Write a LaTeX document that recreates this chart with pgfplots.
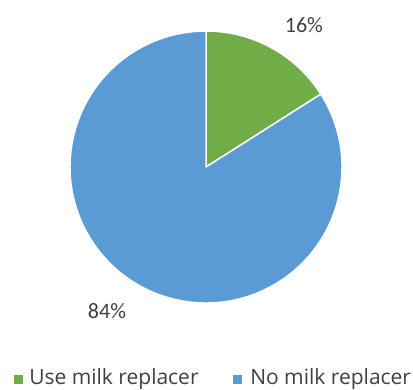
\documentclass[border=0pt]{standalone}
\usepackage{pgfplots}
\usepackage{pgfplotstable}
\pgfplotsset{compat=1.18}
\usepackage{fontspec}
\setmainfont{Carlito}
\newfontfamily\legfont{Open Sans}
\definecolor{cgreen}{HTML}{70AD47}
\definecolor{cblue}{HTML}{5B9BD5}
\definecolor{ctext}{HTML}{404040}
\pgfplotstableread{
label value
Use 16
No 84
}\piedata
\begin{document}
\begin{tikzpicture}
\pgfplotstablegetelem{0}{value}\of\piedata \let\va\pgfplotsretval
\pgfplotstablegetelem{1}{value}\of\piedata \let\vb\pgfplotsretval
\pgfmathsetmacro\angA{90-3.6*\va}
\pgfmathsetmacro\angB{\angA-3.6*\vb}
\begin{axis}[
  x=136bp, y=136bp,
  xmin=-1.5147, xmax=1.522, ymin=-1.632, ymax=1.228,
  hide axis, clip=false, scale only axis,
]
\path (axis cs:-1.5147,-1.632) rectangle (axis cs:1.522,1.228);
\filldraw[fill=cgreen, draw=white, line width=1.5bp, line join=round]
  (axis cs:0,0) -- ++(90:136bp) arc[start angle=90, end angle=\angA, radius=136bp] -- cycle;
\filldraw[fill=cblue, draw=white, line width=1.5bp, line join=round]
  (axis cs:0,0) -- ++(\angA:136bp) arc[start angle=\angA, end angle=\angB, radius=136bp] -- cycle;
\node[text=ctext, font=\fontsize{22bp}{26bp}\selectfont] at (axis cs:0.72,1.044) {16\%};
\node[text=ctext, font=\fontsize{22bp}{26bp}\selectfont] at (axis cs:-0.728,-1.059) {84\%};
\fill[cgreen] (axis cs:-1.382,-1.559) ++(-4.5bp,-4.5bp) rectangle ++(9bp,9bp);
\fill[cblue] (axis cs:0.235,-1.559) ++(-4.5bp,-4.5bp) rectangle ++(9bp,9bp);
\node[anchor=west, inner sep=0pt, text=ctext, font=\legfont\fontsize{21bp}{24bp}\selectfont] at (axis cs:-1.301,-1.559) {Use milk replacer};
\node[anchor=west, inner sep=0pt, text=ctext, font=\legfont\fontsize{21bp}{24bp}\selectfont] at (axis cs:0.324,-1.559) {No milk replacer};
\end{axis}
\end{tikzpicture}
\end{document}
